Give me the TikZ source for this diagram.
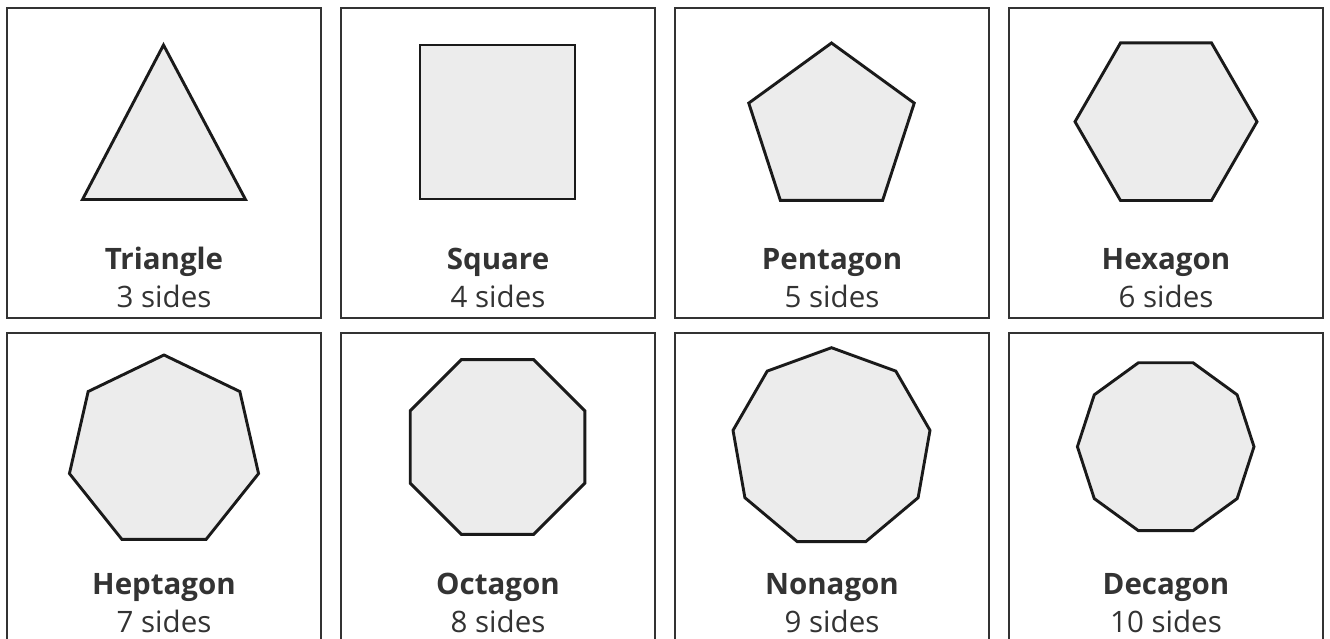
\documentclass[tikz,border=0pt]{standalone}
\usepackage{fontspec}
\setmainfont{Open Sans}
\definecolor{txt}{HTML}{333333}
\definecolor{frame}{HTML}{333333}
\definecolor{shapefill}{HTML}{ECECEC}
\definecolor{shapeline}{HTML}{1A1A1A}
\newcommand{\mypoly}[5]{%
  \draw[polyshape] ({#1+#3*cos(#5)},{#2-#3*sin(#5)})
    \foreach \k in {1,...,\numexpr#4-1\relax}{ -- ({#1+#3*cos(#5+360*\k/#4)},{#2-#3*sin(#5+360*\k/#4)}) } -- cycle;}
\begin{document}
\begin{tikzpicture}[x=1pt,y=-1pt,
  panel/.style={draw=frame,line width=1.3pt,fill=white},
  polyshape/.style={draw=shapeline,fill=shapefill,line width=2.9pt,line join=miter},
  title/.style={anchor=base,text=txt,font=\fontsize{29.5}{34}\selectfont\bfseries,inner sep=0pt},
  sub/.style={anchor=base,text=txt,font=\fontsize{29.5}{34}\selectfont,inner sep=0pt}]
\useasboundingbox (0,0) rectangle (1330,639);
\clip (0,0) rectangle (1330,639);
% panels
\foreach \c [count=\i] in {0,1,2,3}{
  \path[panel] ({7+334*\c},8) rectangle ({321+334*\c},318);
  \path[panel] ({7+334*\c},333) rectangle ({321+334*\c},643);
}
% shapes
\draw[polyshape] (163.5,45) coordinate (tri1) -- (82.5,199.5) coordinate (tri2) -- (245.5,199.5) coordinate (tri3) -- cycle;
\draw[polyshape] (420,45) rectangle (575,199);
\mypoly{831.5}{130}{87}{5}{90}
\mypoly{1166}{121.7}{91}{6}{0}
\mypoly{164}{452}{97}{7}{90}
\mypoly{497.5}{447}{94.5}{8}{22.5}
\mypoly{831.5}{447.7}{100}{9}{90}
\mypoly{1165.7}{446.7}{88.3}{10}{0}
% labels
\node[title] (t1) at (164,269) {Triangle};
\node[sub]   (s1) at (164,307) {3 sides};
\node[title] (t2) at (498,269) {Square};
\node[sub]   (s2) at (498,307) {4 sides};
\node[title] (t3) at (832,269) {Pentagon};
\node[sub]   (s3) at (832,307) {5 sides};
\node[title] (t4) at (1166,269) {Hexagon};
\node[sub]   (s4) at (1166,307) {6 sides};
\node[title] (t5) at (164,594) {Heptagon};
\node[sub]   (s5) at (164,632) {7 sides};
\node[title] (t6) at (498,594) {Octagon};
\node[sub]   (s6) at (498,632) {8 sides};
\node[title] (t7) at (832,594) {Nonagon};
\node[sub]   (s7) at (832,632) {9 sides};
\node[title] (t8) at (1166,594) {Decagon};
\node[sub]   (s8) at (1166,632) {10 sides};
\end{tikzpicture}
\end{document}
